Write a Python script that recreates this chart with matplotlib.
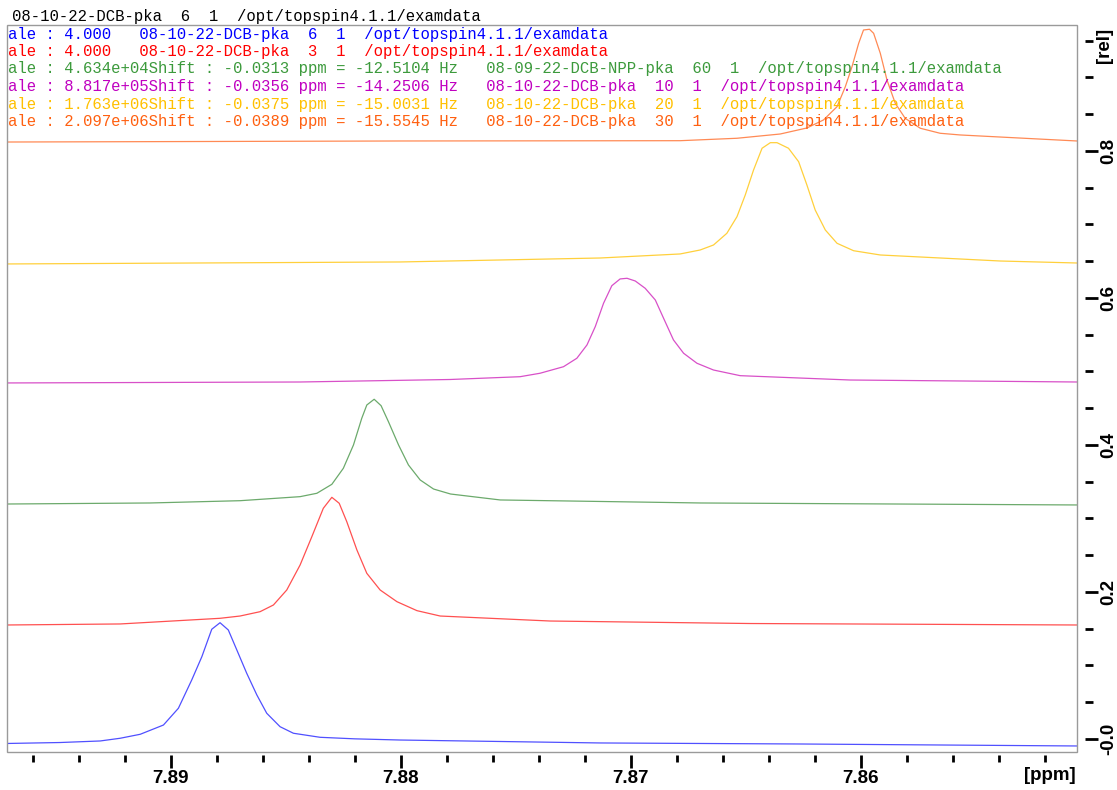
import matplotlib
matplotlib.use("Agg")
import matplotlib.pyplot as plt
from matplotlib.patches import Rectangle
from matplotlib.ticker import MultipleLocator, FixedLocator

# ---------------- data (ppm, rel. intensity) ----------------
blue_ppm = [7.89712, 7.89481, 7.89307, 7.8922, 7.89133, 7.89032, 7.88967, 7.88909, 7.88865,
            7.88822, 7.88786, 7.8875, 7.88713, 7.8867, 7.88626, 7.88583, 7.88525, 7.88467,
            7.88351, 7.88200, 7.88003, 7.87134, 7.86266, 7.85061]
blue_int = [-0.0061, -0.0048, -0.0027, 0.0010, 0.0064, 0.0190, 0.0418, 0.0803, 0.1120,
            0.1493, 0.1582, 0.1483, 0.1211, 0.0894, 0.0599, 0.0350, 0.0167, 0.0078,
            0.0023, 0.0002, -0.0014, -0.0054, -0.0068, -0.0095]

red_ppm = [7.89712, 7.8922, 7.88786, 7.88699, 7.88612, 7.88554, 7.88496, 7.88438, 7.88387,
           7.88337, 7.883, 7.88268, 7.88235, 7.88191, 7.88148, 7.8809, 7.88017, 7.8793,
           7.87829, 7.87351, 7.86481, 7.85061]
red_int = [0.1551, 0.1565, 0.1642, 0.1673, 0.1732, 0.1823, 0.2027, 0.2367, 0.2752,
           0.3139, 0.3288, 0.3207, 0.2956, 0.2571, 0.2254, 0.2027, 0.1868, 0.1746,
           0.1673, 0.1605, 0.1571, 0.1551]

green_ppm = [7.89712, 7.8909, 7.88699, 7.88438, 7.88365, 7.883, 7.8825, 7.88206, 7.8817,
             7.88148, 7.88116, 7.88086, 7.88054, 7.8801, 7.87967, 7.87916, 7.87858,
             7.87784, 7.87568, 7.86698, 7.85061]
green_int = [0.3197, 0.3211, 0.3242, 0.3297, 0.3343, 0.3465, 0.3683, 0.4000, 0.4363,
             0.4544, 0.4622, 0.4535, 0.4317, 0.4000, 0.3728, 0.3524, 0.3401,
             0.3333, 0.3252, 0.3211, 0.3184]

magenta_ppm = [7.89712, 7.88438, 7.87786, 7.87482, 7.87395, 7.87293, 7.87235, 7.87191,
               7.87155, 7.87119, 7.87083, 7.87047, 7.87017, 7.86981, 7.86938, 7.86894,
               7.86858, 7.86815, 7.86771, 7.86713, 7.86641, 7.86525, 7.86047, 7.85061]
magenta_int = [0.4844, 0.4857, 0.4891, 0.4929, 0.4976, 0.5065, 0.5180, 0.5361,
               0.5610, 0.5928, 0.6167, 0.6259, 0.6268, 0.6231, 0.6132, 0.5973,
               0.5724, 0.5429, 0.5248, 0.5112, 0.5020, 0.4943, 0.4884, 0.4857]

yellow_ppm = [7.89712, 7.88003, 7.87134, 7.86786, 7.86699, 7.86641, 7.86583, 7.86539,
              7.86503, 7.86467, 7.8643, 7.86394, 7.86365, 7.86315, 7.86271, 7.86235,
              7.86199, 7.86155, 7.86104, 7.86032, 7.85916, 7.85394, 7.85061]
yellow_int = [0.6463, 0.6490, 0.6544, 0.6599, 0.6653, 0.6721, 0.6880, 0.7106,
              0.7401, 0.7741, 0.8037, 0.8113, 0.8113, 0.8037, 0.7854, 0.7537,
              0.7197, 0.6925, 0.6744, 0.6643, 0.6585, 0.6503, 0.6476]

orange_ppm = [7.89712, 7.88003, 7.86786, 7.86539, 7.86351, 7.86235, 7.86163, 7.86104,
              7.86068, 7.86039, 7.8601, 7.85989, 7.85963, 7.85945, 7.85916, 7.85887,
              7.85851, 7.85808, 7.85742, 7.85656, 7.85569, 7.85061]
orange_int = [0.8122, 0.8136, 0.8140, 0.8173, 0.8231, 0.8313, 0.8422, 0.8603,
              0.8875, 0.9147, 0.9465, 0.9646, 0.9656, 0.9601, 0.9329, 0.8966,
              0.8649, 0.8445, 0.8309, 0.8241, 0.8218, 0.8136]

header_text = "08-10-22-DCB-pka  6  1  /opt/topspin4.1.1/examdata"
legend_texts = [
    "ale : 4.000   08-10-22-DCB-pka  6  1  /opt/topspin4.1.1/examdata",
    "ale : 4.000   08-10-22-DCB-pka  3  1  /opt/topspin4.1.1/examdata",
    "ale : 4.634e+04Shift : -0.0313 ppm = -12.5104 Hz   08-09-22-DCB-NPP-pka  60  1  /opt/topspin4.1.1/examdata",
    "ale : 8.817e+05Shift : -0.0356 ppm = -14.2506 Hz   08-10-22-DCB-pka  10  1  /opt/topspin4.1.1/examdata",
    "ale : 1.763e+06Shift : -0.0375 ppm = -15.0031 Hz   08-10-22-DCB-pka  20  1  /opt/topspin4.1.1/examdata",
    "ale : 2.097e+06Shift : -0.0389 ppm = -15.5545 Hz   08-10-22-DCB-pka  30  1  /opt/topspin4.1.1/examdata",
]
x_major = [7.86, 7.87, 7.88, 7.89]
x_labels = ["7.86", "7.87", "7.88", "7.89"]
y_major = [0.0, 0.2, 0.4, 0.6, 0.8]
y_labels = ["-0.0", "0.2", "0.4", "0.6", "0.8"]

series = [
    (blue_ppm, blue_int, "#5050ff", "#0000ff"),
    (red_ppm, red_int, "#ff5050", "#ff0000"),
    (green_ppm, green_int, "#6caa6c", "#3c9a3c"),
    (magenta_ppm, magenta_int, "#d850c8", "#c000c0"),
    (yellow_ppm, yellow_int, "#ffd03c", "#ffc000"),
    (orange_ppm, orange_int, "#ff8a55", "#ff6010"),
]

W, H = 1117, 790
fig = plt.figure(figsize=(W / 100, H / 100), dpi=100)
fig.patch.set_facecolor("white")
ax = fig.add_axes([7 / W, 38 / H, 1070 / W, 727 / H])

for ppm, val, lc, tc in series:
    ax.plot(ppm, val, color=lc, lw=0.9, zorder=3)

ax.set_xlim(7.89712, 7.85061)
ax.set_ylim(-0.0177, 0.9714)

for s in ax.spines.values():
    s.set_visible(False)
ax.spines["bottom"].set_position(("outward", 2))
ax.spines["right"].set_position(("outward", 6))
ax.add_patch(Rectangle((0, 0), 1, 1, transform=ax.transAxes, fill=False,
                       edgecolor="#9a9a9a", lw=1.0, clip_on=False, zorder=5))

ax.xaxis.set_major_locator(FixedLocator(x_major))
ax.set_xticklabels(x_labels)
ax.xaxis.set_minor_locator(MultipleLocator(0.002))
ax.yaxis.tick_right()
ax.yaxis.set_major_locator(FixedLocator(y_major))
ax.set_yticklabels(y_labels)
ax.yaxis.set_minor_locator(MultipleLocator(0.05))

ax.tick_params(axis="x", which="major", direction="out", length=9, width=2, pad=2,
               labelsize=13.5, bottom=True, top=False)
ax.tick_params(axis="x", which="minor", direction="out", length=5, width=2,
               bottom=True, top=False)
ax.tick_params(axis="y", which="major", direction="out", length=9, width=2, pad=2,
               labelsize=13.5, right=True, left=False)
ax.tick_params(axis="y", which="minor", direction="out", length=6, width=2,
               right=True, left=False)
for lab in ax.get_xticklabels():
    lab.set_fontfamily("Liberation Sans")
    lab.set_fontweight("bold")
for lab in ax.get_yticklabels():
    lab.set_fontfamily("Liberation Sans")
    lab.set_fontweight("bold")
    lab.set_rotation(90)
    lab.set_va("center")
    lab.set_ha("left")

fig.text(1104 / W, 1 - 45 / H, "[rel]", rotation=90, ha="center", va="center",
         fontsize=13.5, fontweight="bold", family="Liberation Sans")
fig.text(1050 / W, 1 - 776 / H, "[ppm]", ha="center", va="center",
         fontsize=13.5, fontweight="bold", family="Liberation Sans")

mono = dict(family="Liberation Mono", fontsize=11.25, va="center", ha="left")
fig.text(12 / W, 1 - 16 / H, header_text, color="black", **mono)
line_y = [34, 51.5, 69, 86.5, 104, 121.5]
for (ppm, val, lc, tc), txt, yy in zip(series, legend_texts, line_y):
    fig.text(8 / W, 1 - yy / H, txt, color=tc, zorder=4, **mono)

fig.savefig("out.png", dpi=100)
